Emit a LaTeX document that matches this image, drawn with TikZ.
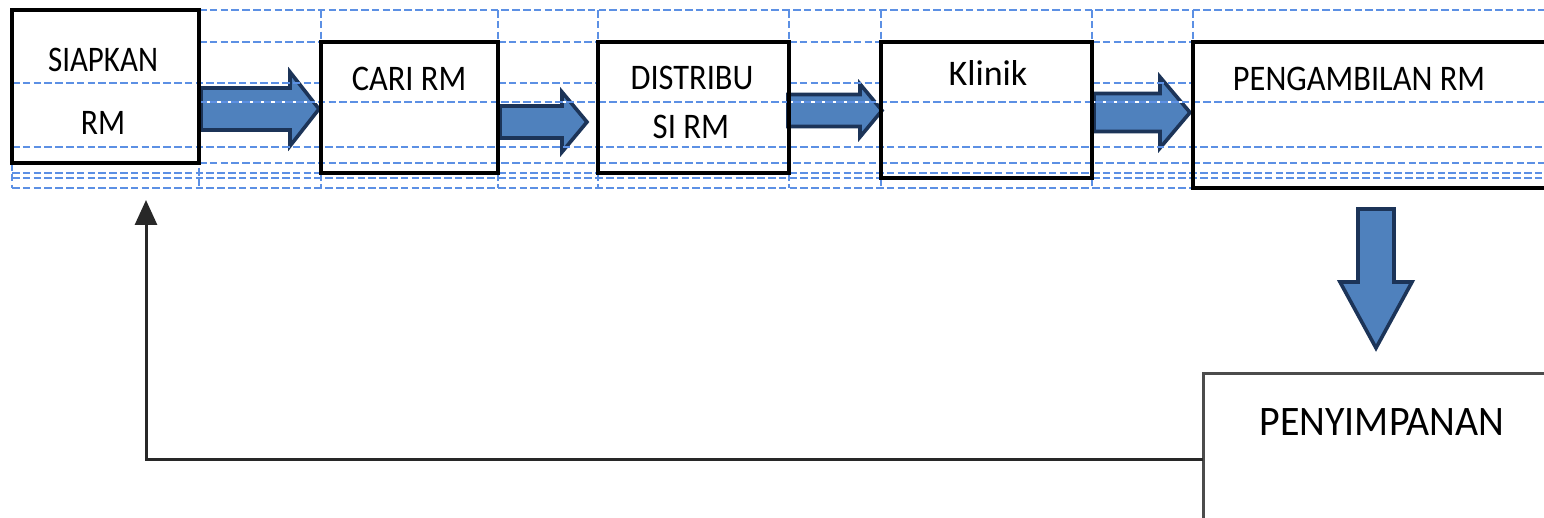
\documentclass[tikz,border=0pt]{standalone}
\usepackage{fontspec}
\usepackage{graphicx}
\setmainfont{Carlito}
\usetikzlibrary{arrows.meta,calc}

\definecolor{gridblue}{RGB}{92,144,228}
\definecolor{arrowfill}{RGB}{79,129,189}
\definecolor{arrowline}{RGB}{28,52,88}
\definecolor{retline}{RGB}{40,40,40}

\tikzset{
  grid/.style={draw=gridblue, line width=1.35pt, dash pattern=on 3.8pt off 1.6pt},
  gridunder/.style={draw=white, line width=1.35pt},
  box/.style={draw=black, line width=1.6pt, fill=none, inner sep=0pt, outer sep=0pt, anchor=north west},
  lbl/.style={inner sep=0pt, font=\fontsize{18}{20}\selectfont},
  biglbl/.style={inner sep=0pt, font=\fontsize{21}{24}\selectfont},
  blockarrow/.style={fill=arrowfill, draw=arrowline, line width=1.8pt, line join=miter},
  retpath/.style={draw=retline, line width=1.5pt, -{Triangle[length=12.5pt,width=11pt]}},
}

% horizontally condensed text
\newcommand\cond[2]{\scalebox{#1}[1]{#2}}

% right-pointing block arrow: #1 tail, #2 tip, #3 shaft half-height, #4 head half-height, #5 head length
\newcommand\rightblock[5]{%
  \path[blockarrow] ($(#1)+(0,-#3)$) -- ($(#2)+(-#5,-#3)$) -- ($(#2)+(-#5,-#4)$) -- (#2)
    -- ($(#2)+(-#5,#4)$) -- ($(#2)+(-#5,#3)$) -- ($(#1)+(0,#3)$) -- cycle;}
% downward block arrow: #1 tail, #2 tip, #3 shaft half-width, #4 head half-width, #5 head length
\newcommand\downblock[5]{%
  \path[blockarrow] ($(#1)+(-#3,0)$) -- ($(#2)+(-#3,-#5)$) -- ($(#2)+(-#4,-#5)$) -- (#2)
    -- ($(#2)+(#4,-#5)$) -- ($(#2)+(#3,-#5)$) -- ($(#1)+(#3,0)$) -- cycle;}

\begin{document}
\begin{tikzpicture}[x=0.5pt,y=-0.5pt]
\useasboundingbox (0,0) rectangle (1544,518);
\clip (0,0) rectangle (1544,518);
\fill[white] (0,0) rectangle (1544,518);

% arrow end points
\coordinate (a1s) at (201,109);  \coordinate (a1e) at (319,109);
\coordinate (a2s) at (500,122);  \coordinate (a2e) at (587,122);
\coordinate (a3s) at (788,110.5);\coordinate (a3e) at (882,110.5);
\coordinate (a4s) at (1094,112.5);\coordinate (a4e) at (1190,112.5);
\coordinate (a5s) at (1376,209); \coordinate (a5e) at (1376,348);

% block arrows between the steps
\rightblock{a1s}{a1e}{21}{37}{29}
\rightblock{a2s}{a2e}{16}{30}{25}
\rightblock{a3s}{a3e}{16}{26.5}{22}
\rightblock{a4s}{a4e}{19}{35.5}{30}
\downblock{a5s}{a5e}{18}{36}{66}

% table grid (dashed)
\path[grid] (199,10) -- (1544,10);
\path[grid] (199,42) -- (321,42) (498,42) -- (598,42) (789,42) -- (881,42) (1092,42) -- (1193,42);
\path[grid] (12,83) -- (321,83) (498,83) -- (598,83) (789,83) -- (881,83) (1092,83) -- (1193,83);
\path[gridunder] (199,102) -- (1544,102);
\path[grid] (199,102) -- (1544,102);
\path[grid] (12,147) -- (1544,147);
\path[grid] (199,163) -- (1544,163);
\path[grid] (12,173) -- (1544,173);
\path[grid] (12,178) -- (1544,178);
\path[grid] (12,188) -- (1193,188);
\foreach \x in {321,498,598,789,881,1092,1193} {\path[grid] (\x,10) -- (\x,42);}
\path[grid] (12,163) -- (12,188) (199,168) -- (199,188);
\foreach \x in {321,498,598,789} {\path[grid] (\x,173) -- (\x,188);}
\foreach \x in {881,1092} {\path[grid] (\x,178) -- (\x,188);}

% process boxes
\node[box, minimum width=93.5pt, minimum height=76.5pt] (siap) at (12,10) {};
\node[box, minimum width=88.5pt, minimum height=65.5pt] (cari) at (321,42) {};
\node[box, minimum width=95.5pt, minimum height=65.5pt] (dist) at (598,42) {};
\node[box, minimum width=105.5pt, minimum height=68pt] (klin) at (881,42) {};
\node[box, minimum width=190pt, minimum height=73pt] (ambil) at (1193,42) {};
\node[box, draw=black!70, line width=1.5pt, minimum width=190pt, minimum height=100pt] (simpan) at (1203,374) {};

% labels
\node[lbl] (tsiap1) at (103,60) {\cond{0.86}{SIAPKAN}};
\node[lbl] (tsiap2) at (103,123) {\cond{0.88}{RM}};
\node[lbl] (tcari) at (409,79) {\cond{0.9}{CARI RM}};
\node[lbl] (tdist1) at (692,78) {\cond{0.9}{DISTRIBU}};
\node[lbl] (tdist2) at (691,127) {\cond{0.91}{SI RM}};
\node[lbl] (tklin) at (988,73) {Klinik};
\node[lbl] (tambil) at (1359,79) {\cond{0.9}{PENGAMBILAN RM}};
\node[biglbl] (tsimpan) at (1382,422) {\cond{0.95}{PENYIMPANAN}};

% return line from storage back to the start
\coordinate (ylow) at (0,460);
\coordinate (rettip) at (146,200);
\draw[retpath] (simpan.west |- ylow) -| (rettip);
\end{tikzpicture}
\end{document}
